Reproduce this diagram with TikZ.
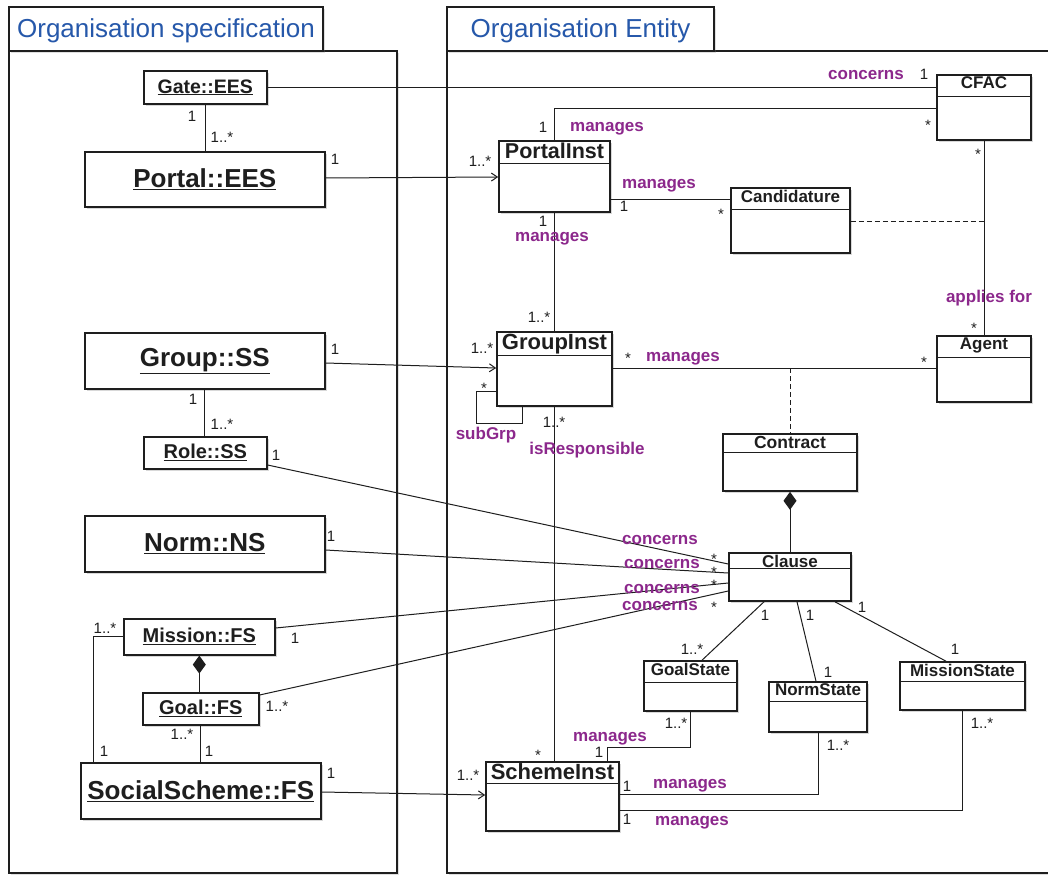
\documentclass[tikz,border=0pt]{standalone}
\usepackage{fontspec}
\setmainfont{Liberation Sans}
\usetikzlibrary{fit,shadows,arrows.meta,calc}
\definecolor{lblpurple}{RGB}{140,40,140}
\definecolor{ttlblue}{RGB}{38,88,170}
\definecolor{ink}{RGB}{30,30,30}
\tikzset{
  frame/.style={draw=ink, line width=1.5pt, fill=white, inner sep=0pt,
    drop shadow={opacity=0.25,shadow xshift=2pt,shadow yshift=-2pt}},
  frametitle/.style={text=ttlblue, font=\fontsize{26}{26}\selectfont, yshift=-2pt},
  specnode/.style={draw=ink, line width=1.6pt, fill=white, inner sep=0pt, text=ink,
    drop shadow={opacity=0.3,shadow xshift=2pt,shadow yshift=-2pt}},
  clsnode/.style={draw=ink, line width=1.6pt, fill=white, inner sep=0pt,
    drop shadow={opacity=0.3,shadow xshift=2pt,shadow yshift=-2pt}},
  clstitle/.style={anchor=north, inner sep=0pt, yshift=-2.5pt, text=ink},
  conn/.style={draw=ink, line width=1pt},
  dconn/.style={draw=ink, line width=1pt, dash pattern=on 5pt off 3pt},
  arr/.style={conn, -{Straight Barb[length=6pt,width=8pt,line width=1pt]}},
  mult/.style={inner sep=0pt, text=ink, font=\fontsize{15}{15}\selectfont, text height=11pt, text depth=3pt},
  rolelbl/.style={inner sep=0pt, text=lblpurple, font=\bfseries\fontsize{17}{17}\selectfont, text height=12.5pt, text depth=3.5pt},
}
\newcommand\clsbox[8]{%
  \node[clsnode, fit={(#2,#3) (#4,#5)},
    label={[clstitle, font=\bfseries\fontsize{#7}{#7}\selectfont]north:#8}] (#1) {};
  \draw[conn, line width=1.3pt] ([yshift=-#6pt]#1.north west) -- ([yshift=-#6pt]#1.north east);
}
\newcommand\specbox[7]{%
  \node[specnode, anchor=north west, minimum width={(#4-#2)*1pt}, minimum height={(#5-#3)*1pt},
    font=\bfseries\fontsize{#6}{#6}\selectfont] (#1) at (#2,#3) {\underline{#7}};
}
\newcommand\mlt[4]{\node[mult] (#1) at (#2,#3) {#4};}
\newcommand\mst[3]{\node[mult, yshift=-4pt] (#1) at (#2,#3) {*};}
\newcommand\rl[4]{\node[rolelbl] (#1) at (#2,#3) {#4};}
\begin{document}
\begin{tikzpicture}[x=1pt,y=-1pt]
\useasboundingbox (0,0) rectangle (1048,875);
% frames
\node[frame, fit={(9,51) (397,873)}] (specbody) {};
\node[frame, fit={(9,7) (323,51)}] (spectab) {};
\node[frametitle] (spectitle) at (spectab.center) {Organisation specification};
\node[frame, fit={(447,51) (1070,873)}] (entbody) {};
\node[frame, fit={(447,7) (714,51)}] (enttab) {};
\node[frametitle] (enttitle) at (enttab.center) {Organisation Entity};

% specification nodes
\specbox{gate}{143}{70}{266}{103}{19.5}{Gate::EES}
\specbox{portalees}{84}{151}{324}{206}{26}{Portal::EES}
\specbox{groupss}{84}{332}{324}{388}{26}{Group::SS}
\specbox{roless}{143}{436}{266}{468}{20}{Role::SS}
\specbox{normns}{84}{515}{324}{571}{26}{Norm::NS}
\specbox{missionfs}{123}{618}{274}{654}{20}{Mission::FS}
\specbox{goalfs}{142}{692}{258}{724}{20}{Goal::FS}
\specbox{socialfs}{80}{762}{320}{818}{26}{SocialScheme::FS}

% entity nodes
\clsbox{cfac}{937}{75}{1031}{140}{22}{17}{CFAC}
\clsbox{portalinst}{499}{141}{610}{212}{23}{21.5}{PortalInst}
\clsbox{candidature}{731}{188}{850}{253}{22}{17}{Candidature}
\clsbox{groupinst}{497}{332}{612}{406}{24}{22}{GroupInst}
\clsbox{agent}{937}{336}{1031}{402}{22}{17}{Agent}
\clsbox{contract}{723}{434}{857}{491}{19}{17.5}{Contract}
\clsbox{clause}{729}{553}{851}{601}{16}{17}{Clause}
\clsbox{goalstate}{644}{661}{737}{711}{22}{17}{GoalState}
\clsbox{normstate}{769}{682}{867}{732}{20}{17}{NormState}
\clsbox{missionstate}{900}{662}{1025}{710}{20}{17}{MissionState}
\clsbox{schemeinst}{486}{762}{619}{831}{22}{22}{SchemeInst}

% connectors in specification
\draw[conn] (gate.south) -- (gate.south |- portalees.north);
\draw[conn] (groupss.south) -- (groupss.south |- roless.north);
\draw[conn] (missionfs.west) -| (socialfs.north -| 93,0);
\draw[conn] (goalfs.south) -- (goalfs.south |- socialfs.north);
\draw[conn, {Diamond[length=18pt,width=13pt]}-] (missionfs.south) -- (missionfs.south |- goalfs.north);

% connectors across / in entity
\draw[conn] (gate.east) -- (gate.east -| cfac.west);
\draw[conn] (portalinst.north) |- (cfac.west |- 0,108);
\draw[arr] (portalees.east |- 0,178) -- (portalinst.west |- 0,177);
\draw[conn] (portalinst.east |- 0,199) -- (candidature.west |- 0,199);
\draw[dconn] (candidature.east |- 0,221) -- (cfac.south |- 0,221);
\draw[conn] (cfac.south) -- (agent.north);
\draw[conn] (portalinst.south) -- (groupinst.north);
\draw[arr] (groupss.east |- 0,363) -- (groupinst.west |- 0,368);
\draw[conn] (groupinst.west |- 0,391) -| (476,423) -| (groupinst.south -| 522,0);
\draw[conn] (groupinst.east |- 0,368) -- (agent.west |- 0,368);
\draw[dconn] (contract.north |- 0,368) -- (contract.north);
\draw[conn] (groupinst.south) -- (groupinst.south |- schemeinst.north);
\draw[conn, {Diamond[length=18pt,width=13pt]}-] (contract.south) -- (clause.north);
\draw[conn] (roless.east |- 0,465) -- (clause.west |- 0,564);
\draw[conn] (normns.east |- 0,550) -- (clause.west |- 0,573);
\draw[conn] (missionfs.east |- 0,628) -- (clause.west |- 0,583);
\draw[conn] (goalfs.east |- 0,695) -- (clause.west |- 0,591);
\draw[conn] (clause.south -| 764,0) -- (goalstate.north -| 702,0);
\draw[conn] (clause.south -| 797,0) -- (normstate.north -| 816,0);
\draw[conn] (clause.south -| 835,0) -- (missionstate.north -| 946,0);
\draw[conn] (goalstate.south) |- (607,747) -- (schemeinst.north -| 607,0);
\draw[conn] (normstate.south) |- (schemeinst.east |- 0,794);
\draw[conn] (missionstate.south) |- (schemeinst.east |- 0,810);
\draw[arr] (socialfs.east |- 0,792) -- (schemeinst.west |- 0,795);

% multiplicities
\mlt{m1}{192}{117}{1}
\mlt{m2}{222}{138}{1..*}
\mlt{m3}{335}{160}{1}
\mlt{m4}{480}{162}{1..*}
\mlt{m5}{193}{400}{1}
\mlt{m6}{222}{425}{1..*}
\mlt{m7}{335}{350}{1}
\mlt{m8}{482}{349}{1..*}
\mlt{m9}{276}{456}{1}
\mlt{m10}{331}{537}{1}
\mlt{m11}{105}{629}{1..*}
\mlt{m12}{295}{639}{1}
\mlt{m13}{104}{752}{1}
\mlt{m14}{277}{707}{1..*}
\mlt{m15}{182}{735}{1..*}
\mlt{m16}{209}{752}{1}
\mlt{m17}{331}{774}{1}
\mlt{m18}{468}{776}{1..*}
\mlt{m19}{924}{75}{1}
\mlt{m20}{543}{128}{1}
\mst{m21}{928}{122}
\mlt{m22}{624}{207}{1}
\mst{m23}{721}{211}
\mst{m24}{978}{151}
\mlt{m25}{543}{222}{1}
\mst{m26}{974}{325}
\mlt{m27}{539}{318}{1..*}
\mst{m28}{628}{355}
\mst{m29}{924}{359}
\mst{m30}{484}{385}
\mlt{m31}{554}{423}{1..*}
\mst{m32}{714}{556}
\mst{m33}{714}{569}
\mst{m34}{714}{582}
\mst{m35}{714}{604}
\mlt{m36}{765}{616}{1}
\mlt{m37}{810}{616}{1}
\mlt{m38}{862}{608}{1}
\mlt{m39}{692}{650}{1..*}
\mlt{m40}{828}{673}{1}
\mlt{m41}{955}{650}{1}
\mlt{m42}{676}{724}{1..*}
\mlt{m43}{599}{753}{1}
\mst{m44}{538}{752}
\mlt{m45}{838}{746}{1..*}
\mlt{m46}{982}{724}{1..*}
\mlt{m47}{627}{787}{1}
\mlt{m48}{627}{820}{1}

% role labels
\rl{p1}{866}{75}{concerns}
\rl{p2}{607}{127}{manages}
\rl{p3}{659}{184}{manages}
\rl{p4}{552}{237}{manages}
\rl{p5}{989}{298}{applies for}
\rl{p6}{683}{357}{manages}
\rl{p7}{486}{435}{subGrp}
\rl{p8}{587}{450}{isResponsible}
\rl{p9}{660}{540}{concerns}
\rl{p10}{662}{564}{concerns}
\rl{p11}{662}{589}{concerns}
\rl{p12}{660}{606}{concerns}
\rl{p13}{610}{737}{manages}
\rl{p14}{690}{784}{manages}
\rl{p15}{692}{821}{manages}
\end{tikzpicture}
\end{document}
